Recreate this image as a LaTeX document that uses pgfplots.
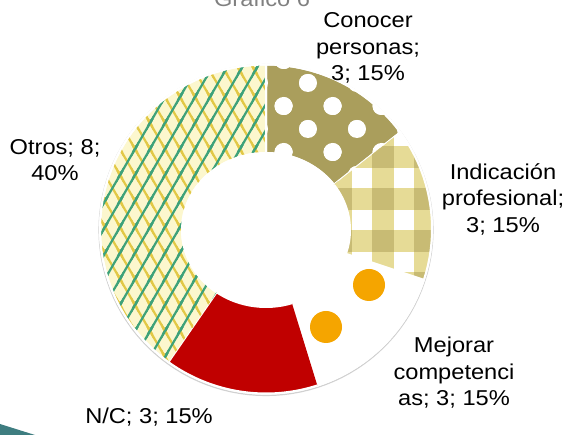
\documentclass[border=0pt]{standalone}
\usepackage{pgfplots}
\pgfplotsset{compat=1.18}
\usepackage{pgfplotstable}
\usepackage{fontspec}
\setmainfont{Liberation Sans}[FakeStretch=1.1]
\usetikzlibrary{patterns.meta}

\definecolor{conbg}{RGB}{170,158,92}
\definecolor{ginglight}{RGB}{230,219,150}
\definecolor{gingdark}{RGB}{200,187,116}
\definecolor{ncred}{RGB}{192,0,0}
\definecolor{dotorange}{RGB}{245,165,0}
\definecolor{otrobg}{RGB}{252,247,206}
\definecolor{otroyel}{RGB}{226,200,70}
\definecolor{otrogrn}{RGB}{62,162,122}
\definecolor{slideteal}{RGB}{62,125,128}

\tikzdeclarepattern{
  name=polka, type=colored,
  bottom left={(-10pt,-10pt)}, top right={(59pt,56pt)},
  tile size={(49pt,46pt)},
  code={
    \foreach \i in {-1,0,1}{\foreach \j in {-1,0,1}{
      \fill[white] (14pt+49pt*\i,30pt+46pt*\j) circle [radius=9pt];
      \fill[white] (38.5pt+49pt*\i,7pt+46pt*\j) circle [radius=9pt];
    }}
  }
}
\tikzdeclarepattern{
  name=gingham, type=colored,
  bottom left={(-2pt,-2pt)}, top right={(44pt,44pt)},
  tile size={(42pt,42pt)},
  code={
    \fill[ginglight] (36pt,-2pt) rectangle (58pt,44pt);
    \fill[ginglight] (-6pt,-2pt) rectangle (16pt,44pt);
    \fill[ginglight] (-2pt,15pt) rectangle (44pt,37pt);
    \fill[gingdark] (36pt,15pt) rectangle (58pt,37pt);
    \fill[gingdark] (-6pt,15pt) rectangle (16pt,37pt);
  }
}
\tikzdeclarepattern{
  name=bigdots, type=colored,
  bottom left={(0pt,0pt)}, top right={(200pt,200pt)},
  tile size={(200pt,200pt)},
  code={
    \fill[dotorange] (169pt,150pt) circle [radius=16pt];
    \fill[dotorange] (126pt,108pt) circle [radius=16pt];
  }
}
\tikzdeclarepattern{
  name=xhatch, type=colored,
  bottom left={(-3pt,-3pt)}, top right={(18pt,29pt)},
  tile size={(15pt,26pt)},
  code={
    \foreach \s in {-30,-15,0,15,30}{
      \draw[otroyel, line width=2.2pt] ([xshift=\s pt]-15pt,52pt) -- ([xshift=\s pt]30pt,-26pt);
    }
    \foreach \s in {-30,-15,0,15,30}{
      \draw[otrogrn, line width=2.2pt] ([xshift=\s pt]-15pt,-26pt) -- ([xshift=\s pt]30pt,52pt);
    }
  }
}

\pgfplotstableread{
label value
Conocer 3
Indicacion 3
Mejorar 3
NC 3
Otros 8
}\datatable

\pgfplotstablegetelem{0}{value}\of\datatable \let\vA\pgfplotsretval
\pgfplotstablegetelem{1}{value}\of\datatable \let\vB\pgfplotsretval
\pgfplotstablegetelem{2}{value}\of\datatable \let\vC\pgfplotsretval
\pgfplotstablegetelem{3}{value}\of\datatable \let\vD\pgfplotsretval
\pgfplotstablegetelem{4}{value}\of\datatable \let\vE\pgfplotsretval
\pgfmathsetmacro\tot{\vA+\vB+\vC+\vD+\vE}
\pgfmathsetmacro\aA{90}
\pgfmathsetmacro\aB{\aA-360*\vA/\tot}
\pgfmathsetmacro\aC{\aB-360*\vB/\tot}
\pgfmathsetmacro\aD{\aC-360*\vC/\tot}
\pgfmathsetmacro\aE{\aD-360*\vD/\tot}
\pgfmathsetmacro\aF{\aE-360*\vE/\tot}

\def\cx{266}\def\cy{206}
\def\Rx{166}\def\Ry{164.5}
\def\rx{84}\def\ry{77}
\def\cyi{205}

\newcommand\slice[3]{%
  \addplot[#3, draw=white, line width=2pt, samples at={0,1,...,80}, variable=\t]
   ({\t<40.5 ? (\cx+\Rx*cos(#1+(#2-#1)*\t/40)) : (\cx+\rx*cos(#2+(#1-#2)*(\t-41)/39))},
    {\t<40.5 ? (\cy+\Ry*sin(#1+(#2-#1)*\t/40)) : (\cyi+\ry*sin(#2+(#1-#2)*(\t-41)/39))});
}

\tikzset{lbl/.style={font=\fontsize{21.5}{26.5}\selectfont, align=center, text=black, inner sep=0pt}}

\begin{document}
\begin{tikzpicture}
\path[use as bounding box] (0pt,0pt) rectangle (570pt,435pt);
\clip (0pt,0pt) rectangle (570pt,435pt);
\fill[slideteal] (0pt,11pt) -- (35pt,0pt) -- (0pt,0pt) -- cycle;
\begin{axis}[
  scale only axis, width=570pt, height=435pt,
  xmin=0, xmax=570, ymin=0, ymax=435,
  hide axis, clip=false,
]
\addplot[draw=black!18, line width=1.2pt, samples at={0,3,...,360}, variable=\t]
  ({\cx+(\Rx+1)*cos(\t)},{\cy-1+(\Ry+1)*sin(\t)});
\slice{\aA}{\aB}{fill=conbg, postaction={pattern=polka}}
\slice{\aB}{\aC}{fill=white, postaction={pattern=gingham}}
\slice{\aC}{\aD}{fill=white, postaction={pattern=bigdots}}
\slice{\aD}{\aE}{fill=ncred}
\slice{\aE}{\aF}{fill=otrobg, postaction={pattern=xhatch}}

\node[lbl] at (axis cs:368,387) {Conocer\\personas;\\3; 15\%};
\node[lbl] at (axis cs:503,236) {Indicación\\profesional;\\3; 15\%};
\node[lbl] at (axis cs:454,62) {Mejorar\\competenci\\as; 3; 15\%};
\node[lbl] at (axis cs:149,18) {N/C; 3; 15\%};
\node[lbl] at (axis cs:55,275) {Otros; 8;\\40\%};
\node[lbl, anchor=base, text=gray] at (axis cs:262,428) {Gráfico 6};
\end{axis}
\end{tikzpicture}
\end{document}
